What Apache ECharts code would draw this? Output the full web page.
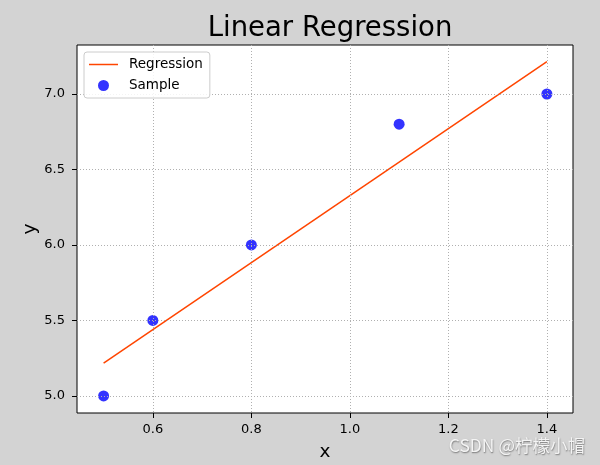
<!DOCTYPE html>
<html>
<head>
<meta charset="utf-8">
<script src="https://cdn.jsdelivr.net/npm/echarts@6/dist/echarts.min.js"></script>
<style>html,body{margin:0;padding:0;background:#d3d3d3;}#c{width:600px;height:465px;}</style>
</head>
<body>
<div id="c"></div>
<script>
// Data
const sampleX = [0.5, 0.6, 0.8, 1.1, 1.4];
const sampleY = [5.0, 5.5, 6.0, 6.8, 7.0];
const regressionX = [0.5, 1.4];
const regressionY = [5.217, 7.214];
const xTicks = [0.6, 0.8, 1.0, 1.2, 1.4];
const yTicks = [5.0, 5.5, 6.0, 6.5, 7.0];

const FONT = 'DejaVu Sans';
const chart = echarts.init(document.getElementById('c'), null, {renderer: 'canvas'});
const fmt = v => Number(v).toFixed(1);

chart.setOption({
  backgroundColor: '#d3d3d3',
  animation: false,
  title: {
    text: 'Linear Regression',
    left: 325, top: 10, textAlign: 'center',
    textStyle: {fontFamily: FONT, fontSize: 27.5, fontWeight: 'normal', color: '#000'}
  },
  grid: {
    left: 77, right: 27, top: 45, bottom: 52,
    outerBoundsMode: 'none', containLabel: false,
    show: true, backgroundColor: '#fff', borderColor: '#000', borderWidth: 1
  },
  legend: {
    orient: 'vertical', left: 84, top: 52,
    backgroundColor: 'rgba(255,255,255,0.85)', borderColor: '#cccccc', borderWidth: 1, borderRadius: 3,
    padding: [4, 7, 4, 5],
    itemWidth: 29, itemHeight: 11, itemGap: 4,
    textStyle: {fontFamily: FONT, fontSize: 13.5, color: '#000', padding: [0, 0, 0, 6], lineHeight: 17},
    data: [
      {name: 'Regression', icon: 'path://M0,0H29V1.5H0Z'},
      {name: 'Sample', icon: 'circle'}
    ]
  },
  xAxis: {
    type: 'value', min: 0.446, max: 1.453, z: 3,
    name: 'x', nameLocation: 'middle', nameGap: 30,
    nameTextStyle: {fontFamily: FONT, fontSize: 18.5, color: '#000'},
    axisLine: {show: false},
    axisTick: {show: true, inside: false, length: 5, lineStyle: {color: '#000'}, customValues: xTicks},
    axisLabel: {fontFamily: FONT, fontSize: 13, color: '#000', margin: 10, customValues: xTicks, formatter: fmt},
    splitLine: {show: true, lineStyle: {color: '#b0b0b0', type: [1, 2], width: 1}}
  },
  yAxis: {
    type: 'value', min: 4.887, max: 7.3245, z: 3,
    name: 'y', nameLocation: 'middle', nameGap: 37, nameRotate: 90, nameMoveOverlap: false,
    nameTextStyle: {fontFamily: FONT, fontSize: 18.5, color: '#000'},
    axisLine: {show: false},
    axisTick: {show: true, inside: false, length: 5, lineStyle: {color: '#000'}, customValues: yTicks},
    axisLabel: {fontFamily: FONT, fontSize: 13, color: '#000', margin: 12, customValues: yTicks, formatter: fmt},
    splitLine: {show: true, lineStyle: {color: '#b0b0b0', type: [1, 2], width: 1}}
  },
  series: [
    {
      name: 'Regression', type: 'line', symbol: 'none', showSymbol: false, z: 2,
      lineStyle: {color: '#ff4500', width: 1.5},
      itemStyle: {color: '#ff4500'},
      data: regressionX.map((x, i) => [x, regressionY[i]])
    },
    {
      name: 'Sample', type: 'scatter', symbol: 'circle', symbolSize: 11, z: 2,
      itemStyle: {color: 'rgba(0,0,255,0.8)', opacity: 1},
      data: sampleX.map((x, i) => [x, sampleY[i]])
    }
  ],
  graphic: [{
    type: 'text', right: 15, top: 437, z: 100,
    style: {
      text: 'CSDN @柠檬小帽',
      fontFamily: '"Noto Sans CJK SC", "DejaVu Sans", sans-serif', fontSize: 17.5,
      fill: '#f4f4f4', textShadowColor: 'rgba(0,0,0,0.45)', textShadowBlur: 1.5, textShadowOffsetX: 0.5, textShadowOffsetY: 0.5
    }
  }]
});
</script>
</body>
</html>
